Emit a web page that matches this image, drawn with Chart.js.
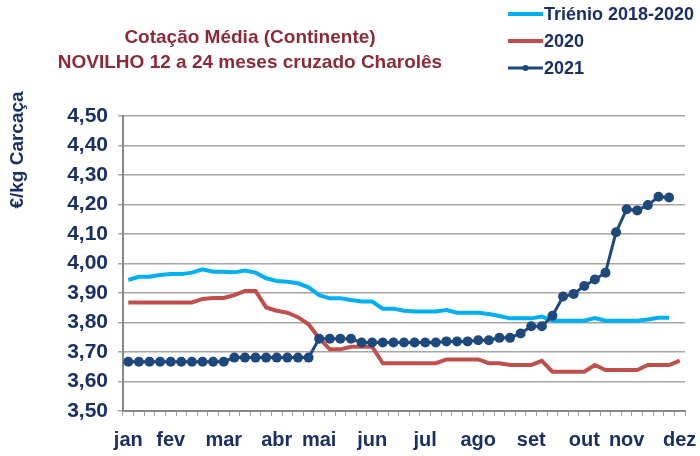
<!DOCTYPE html>
<html>
<head>
<meta charset="utf-8">
<script src="https://cdn.jsdelivr.net/npm/chart.js@4/dist/chart.umd.min.js"></script>
<style>
  html, body { margin: 0; padding: 0; background: #fff; }
  #wrap { width: 700px; height: 456px; position: relative; }
</style>
</head>
<body>
<div id="wrap"><canvas id="myChart"></canvas></div>
<script>
const monthNames = ['jan', 'fev', 'mar', 'abr', 'mai', 'jun', 'jul', 'ago', 'set', 'out', 'nov', 'dez'];
const monthWeek = [0, 4, 9, 14, 18, 23, 28, 33, 38, 43, 47, 52];
const weekCount = 53;

const trienio = [
    3.944, 3.955, 3.955, 3.961, 3.964, 3.964, 3.969, 3.980, 3.972, 3.972,
    3.970, 3.976, 3.969, 3.950, 3.941, 3.938, 3.933, 3.919, 3.893, 3.882,
    3.882, 3.876, 3.871, 3.871, 3.847, 3.847, 3.840, 3.837, 3.837, 3.837,
    3.842, 3.833, 3.833, 3.833, 3.829, 3.822, 3.814, 3.814, 3.814, 3.820,
    3.806, 3.806, 3.806, 3.806, 3.815, 3.806, 3.806, 3.806, 3.806, 3.810,
    3.816, 3.816, null
];
const ano2020 = [
    3.868, 3.868, 3.868, 3.868, 3.868, 3.868, 3.868, 3.880, 3.883, 3.883,
    3.893, 3.907, 3.907, 3.851, 3.840, 3.833, 3.818, 3.794, 3.747, 3.709,
    3.709, 3.718, 3.718, 3.718, 3.662, 3.662, 3.662, 3.662, 3.662, 3.662,
    3.675, 3.675, 3.675, 3.675, 3.662, 3.662, 3.656, 3.656, 3.656, 3.670,
    3.633, 3.633, 3.633, 3.633, 3.656, 3.639, 3.639, 3.639, 3.639, 3.656,
    3.656, 3.656, 3.671
];
const ano2021 = [
    3.667, 3.667, 3.667, 3.667, 3.667, 3.667, 3.667, 3.667, 3.667, 3.667,
    3.681, 3.681, 3.681, 3.681, 3.681, 3.681, 3.681, 3.681, 3.745, 3.745,
    3.745, 3.745, 3.732, 3.732, 3.732, 3.732, 3.732, 3.732, 3.732, 3.732,
    3.736, 3.736, 3.736, 3.740, 3.740, 3.748, 3.748, 3.763, 3.787, 3.787,
    3.823, 3.888, 3.897, 3.924, 3.946, 3.969, 4.106, 4.184, 4.180, 4.198,
    4.226, 4.224, null
];

const navy = '#1a2f66';
const titleRed = '#8c2b37';
const fontFam = "'Liberation Sans', Arial, sans-serif";

const labels = [];
for (let i = 0; i < weekCount; i++) {
    let k = monthWeek.indexOf(i);
    labels.push(k >= 0 ? monthNames[k] : '');
}

// titulo, eixo y e legenda desenhados a mao
const extras = {
    id: 'extras',
    afterDraw(chart) {
        const ctx = chart.ctx;
        ctx.save();
        ctx.fillStyle = titleRed;
        ctx.font = 'bold 19px ' + fontFam;
        ctx.textAlign = 'center';
        ctx.textBaseline = 'middle';
        ctx.fillText('Cotação Média (Continente)', 250, 38);
        ctx.fillText('NOVILHO 12 a 24 meses cruzado Charolês', 250, 63);

        ctx.fillStyle = navy;
        ctx.font = 'bold 19px ' + fontFam;
        ctx.translate(18, 150);
        ctx.rotate(-Math.PI / 2);
        ctx.fillText('€/kg Carcaça', 0, 0);
        ctx.restore();

        ctx.save();
        const rows = [14, 41, 68];
        chart.data.datasets.forEach((ds, i) => {
            const y = rows[i];
            ctx.strokeStyle = ds.borderColor;
            ctx.lineWidth = ds.borderWidth;
            ctx.beginPath();
            ctx.moveTo(508, y);
            ctx.lineTo(543, y);
            ctx.stroke();
            if (ds.pointRadius > 0) {
                ctx.fillStyle = ds.borderColor;
                ctx.beginPath();
                ctx.arc(525.5, y, 3, 0, Math.PI * 2);
                ctx.fill();
            }
            ctx.fillStyle = navy;
            ctx.font = 'bold 18px ' + fontFam;
            ctx.textAlign = 'left';
            ctx.textBaseline = 'middle';
            ctx.fillText(ds.label, 544, y + 1);
        });
        ctx.restore();
    }
};

const ctx = document.getElementById('myChart').getContext('2d');
const myChart = new Chart(ctx, {
    type: 'line',
    data: {
        labels: labels,
        datasets: [{
                label: 'Triénio 2018-2020',
                data: trienio,
                borderColor: '#00b0f0',
                backgroundColor: '#00b0f0',
                borderWidth: 4,
                pointRadius: 0,
                order: 2
            },
            {
                label: '2020',
                data: ano2020,
                borderColor: '#c0504d',
                backgroundColor: '#c0504d',
                borderWidth: 4,
                pointRadius: 0,
                order: 1
            },
            {
                label: '2021',
                data: ano2021,
                borderColor: '#1f497d',
                backgroundColor: '#1f497d',
                borderWidth: 3,
                pointRadius: 5,
                pointBorderWidth: 0,
                order: 0
            }
        ]
    },
    options: {
        responsive: true,
        maintainAspectRatio: false,
        animation: false,
        devicePixelRatio: 1,
        layout: { padding: { top: 116, right: 15, left: 0, bottom: 0 } },
        plugins: {
            legend: { display: false },
            tooltip: { enabled: false }
        },
        scales: {
            x: {
                offset: true,
                grid: {
                    offset: true,
                    drawOnChartArea: false,
                    tickLength: 5,
                    color: '#a0a0a0',
                    lineWidth: 1
                },
                border: { color: '#888', width: 2 },
                ticks: {
                    autoSkip: false,
                    maxRotation: 0,
                    padding: 12,
                    color: navy,
                    font: { family: fontFam, size: 20, weight: 'bold' }
                },
                afterFit(scale) {
                    scale.height = 45;
                    scale.paddingLeft = 0;
                    scale.paddingRight = 0;
                }
            },
            y: {
                min: 3.5,
                max: 4.5,
                grid: {
                    color: '#a6a6a6',
                    lineWidth: 1.5,
                    tickLength: 5
                },
                border: { color: '#888', width: 2 },
                ticks: {
                    stepSize: 0.1,
                    padding: 10,
                    color: navy,
                    font: { family: fontFam, size: 21, weight: 'bold' },
                    callback: (v) => v.toFixed(2).replace('.', ',')
                },
                afterFit(scale) {
                    scale.width = 123;
                    scale.paddingTop = 0;
                    scale.paddingBottom = 0;
                }
            }
        }
    },
    plugins: [extras]
});
</script>
</body>
</html>
